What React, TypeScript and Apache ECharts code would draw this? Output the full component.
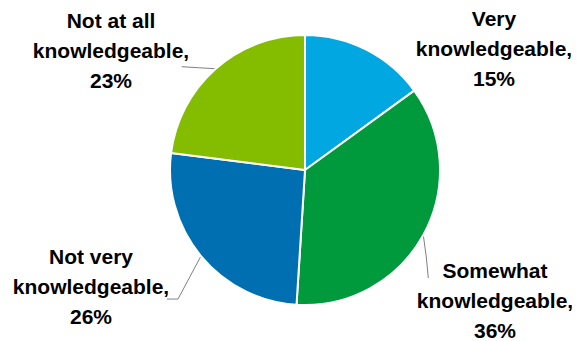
import React, { useEffect, useRef } from "react";
import * as echarts from "echarts";

const categories = [
  "Very\nknowledgeable,",
  "Somewhat\nknowledgeable,",
  "Not very\nknowledgeable,",
  "Not at all\nknowledgeable,",
];
const values = [15, 36, 26, 23];
const colors = ["#00A7E1", "#009A3D", "#006FB1", "#84BD00"];

// label anchor positions (layout only)
const labelPos = [
  { x: 494, y: 48 },
  { x: 495, y: 300 },
  { x: 91, y: 286 },
  { x: 111, y: 50 },
];

export default function App() {
  const ref = useRef<HTMLDivElement>(null);
  useEffect(() => {
    if (!ref.current) return;
    const chart = echarts.init(ref.current, null, { renderer: "svg" });
    chart.setOption({
      animation: false,
      backgroundColor: "#ffffff",
      series: [
        {
          type: "pie",
          center: [305, 170],
          radius: 135,
          startAngle: 90,
          clockwise: true,
          avoidLabelOverlap: false,
          itemStyle: { borderColor: "#ffffff", borderWidth: 2 },
          label: {
            show: true,
            position: "outside",
            formatter: (p: any) => `${p.name}\n${p.value}%`,
            fontFamily: "Liberation Sans, Arial, sans-serif",
            fontWeight: "bold",
            fontSize: 21,
            lineHeight: 30,
            color: "#000000",
            align: "center",
          },
          labelLine: {
            show: true,
            length: 10,
            length2: 10,
            lineStyle: { color: "#808080", width: 1 },
          },
          labelLayout: (params: any) => {
            const i = params.dataIndex;
            const pos = labelPos[i];
            const pts = params.labelLinePoints;
            const out: any = {
              x: pos.x,
              y: pos.y,
              align: "center",
              verticalAlign: "middle",
            };
            if (pts && pts.length) {
              const s = pts[0];
              let linePts: number[][] | null = null;
              if (i === 1) linePts = [s, [s[0] + 3, s[1] + 22], [s[0] + 5, s[1] + 43]];
              if (i === 2) linePts = [s, [s[0] - 23, s[1] + 43], [s[0] - 34, s[1] + 43]];
              if (i === 3) linePts = [s, [s[0] - 17, s[1] - 1], [s[0] - 34, s[1] - 2]];
              if (linePts) out.labelLinePoints = linePts;
            }
            return out;
          },
          data: categories.map((c, i) => ({
            name: c,
            value: values[i],
            itemStyle: { color: colors[i] },
            labelLine: { show: i !== 0 },
          })),
        },
      ],
    });
    return () => chart.dispose();
  }, []);
  return (
    <div
      ref={ref}
      style={{ position: "absolute", left: 0, top: 0, width: 577, height: 341 }}
    />
  );
}
